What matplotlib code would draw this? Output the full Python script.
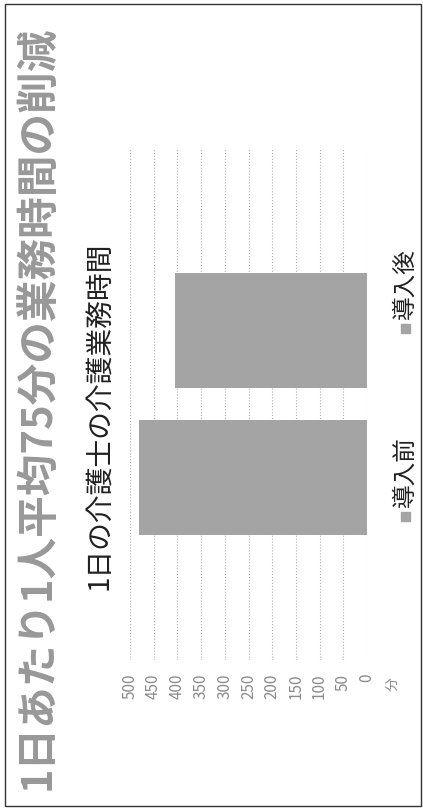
import matplotlib
matplotlib.use("Agg")
import matplotlib.pyplot as plt
import matplotlib.patches as patches

plt.rcParams["font.family"] = ["Noto Sans CJK JP", "DejaVu Sans"]

# Figure size in pixels (the chart is stored rotated 90 degrees)
W, H = 423, 810

TITLE = "1日あたり1人平均75分の業務時間の削減"
SUBTITLE = "1日の介護士の介護業務時間"
UNIT = "分"

# Series (bottom to top in the rotated picture)
series = ["導入前", "導入後"]
minutes = [480, 405]
ticks = [0, 50, 100, 150, 200, 250, 300, 350, 400, 450, 500]

BAR_COLOR = "#a4a4a4"
TEXT_GRAY = "#8a8a8a"


def fx(x):
    return x / W


def fy(y):
    return 1 - y / H


fig = plt.figure(figsize=(W / 100, H / 100), dpi=100)

# Plot area: value axis runs right (0) to left (500)
ax = fig.add_axes([fx(130), fy(660), fx(367) - fx(130), fy(148) - fy(660)])
pos = list(range(len(series)))
ax.barh(pos, minutes, height=0.776, color=BAR_COLOR, zorder=2)
ax.set_xlim(max(ticks), 0)
ax.set_ylim(-1.241, 2.241)

ax.set_xticks(ticks)
ax.set_xticklabels([str(t) for t in ticks], rotation=90, color=TEXT_GRAY,
                   fontsize=11)
ax.tick_params(axis="x", length=0, pad=10)
ax.set_yticks([])
ax.grid(axis="x", linestyle=":", color="#b0b0b0", linewidth=0.8, zorder=0)
for s in ax.spines.values():
    s.set_visible(False)

# Titles
fig.text(fx(38), fy(790), TITLE, rotation=90, ha="center", va="bottom",
         fontsize=30, fontweight="bold", color="#989898")
fig.text(fx(100), fy(590), SUBTITLE, rotation=90, ha="center", va="bottom",
         fontsize=20, color="#202020")

# Unit label
fig.text(fx(393), fy(677), UNIT, rotation=90, ha="center", va="top",
         fontsize=10, color=TEXT_GRAY)

# Legend (rotated)
legend_pos = {"導入前": 516, "導入後": 328}
for name in series:
    yc = legend_pos[name]
    sq = 9
    fig.patches.append(patches.Rectangle(
        (fx(405 - sq / 2), fy(yc + sq / 2)), sq / W, sq / H,
        transform=fig.transFigure, color=BAR_COLOR))
    fig.text(fx(405), fy(yc - 9), name, rotation=90, ha="center", va="bottom",
             fontsize=17, color="#202020")

# Outer frame
fig.patches.append(patches.Rectangle(
    (fx(5), fy(806)), fx(421) - fx(5), fy(4) - fy(806),
    transform=fig.transFigure, fill=False, edgecolor="#333333", linewidth=1))

fig.savefig("out.png", dpi=100)
